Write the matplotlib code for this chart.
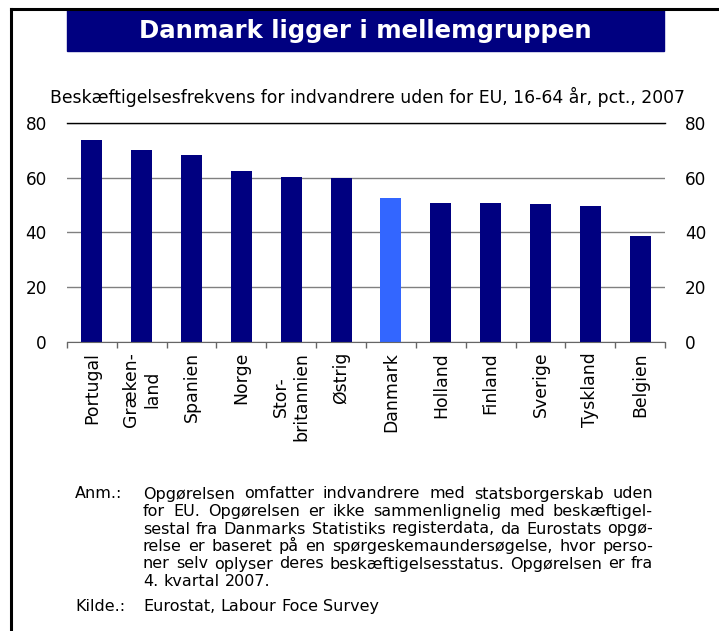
import numpy as np
import matplotlib
matplotlib.use("Agg")
import matplotlib.pyplot as plt
from matplotlib.patches import Rectangle
from matplotlib.lines import Line2D
from matplotlib.transforms import IdentityTransform

# ── data ─────────────────────────────────────────────
countries = ["Portugal", "Græken-\nland", "Spanien", "Norge", "Stor-\nbritannien",
             "Østrig", "Danmark", "Holland", "Finland", "Sverige", "Tyskland", "Belgien"]
values = [73.8, 70.1, 68.2, 62.4, 60.1, 59.9, 52.5, 50.6, 50.6, 50.2, 49.5, 38.5]
highlight = "Danmark"
yticks = [0, 20, 40, 60, 80]

title = "Danmark ligger i mellemgruppen"
subtitle = "Beskæftigelsesfrekvens for indvandrere uden for EU, 16-64 år, pct., 2007"
note_lines = [
    "Opgørelsen omfatter indvandrere med statsborgerskab uden",
    "for EU. Opgørelsen er ikke sammenlignelig med beskæftigel-",
    "sestal fra Danmarks Statistiks registerdata, da Eurostats opgø-",
    "relse er baseret på en spørgeskemaundersøgelse, hvor perso-",
    "ner selv oplyser deres beskæftigelsesstatus. Opgørelsen er fra",
    "4. kvartal 2007.",
]
source = "Eurostat, Labour Foce Survey"

NAVY = "#000080"
LIGHT = "#3366FF"
W, H = 719, 631

plt.rcParams["font.family"] = ["DejaVu Sans"]
fig = plt.figure(figsize=(W / 100, H / 100), dpi=100)


def fx(px):
    return px / W


def fy(py):
    return 1 - py / H


# ── frame + title box ────────────────────────────────
fig.add_artist(Line2D([fx(11), fx(11)], [fy(9), 0], color="black", lw=2.2,
                      transform=fig.transFigure))
fig.add_artist(Line2D([fx(11), 1], [fy(9), fy(9)], color="black", lw=2.2,
                      transform=fig.transFigure))
fig.add_artist(Rectangle((fx(67), fy(51)), fx(664) - fx(67), fy(10) - fy(51),
                         color=NAVY, transform=fig.transFigure))
fig.text(fx(365), fy(31), title, color="white", fontsize=17.6, fontweight="bold",
         ha="center", va="center")
fig.text(fx(368), fy(97), subtitle, fontsize=12.4, ha="center", va="center")

# ── bars ─────────────────────────────────────────────
ax = fig.add_axes([fx(67), fy(341.5), fx(665) - fx(67), fy(123) - fy(341.5)])
x = np.arange(len(countries))
colors = [LIGHT if c == highlight else NAVY for c in countries]
ax.bar(x, values, width=0.42, color=colors, zorder=3)

ax.set_xlim(-0.5, len(countries) - 0.5)
ax.set_ylim(0, 80)
ax.set_yticks(yticks)
ax.tick_params(axis="y", left=False, right=False, labelleft=True, labelright=True,
               labelsize=12.2, pad=11)
ax.set_xticks(x)
ax.set_xticklabels(countries, rotation=90, fontsize=12.4, va="top", ha="center",
                   multialignment="center")
ax.tick_params(axis="x", which="major", length=0, pad=7.5)
ax.set_xticks(np.arange(-0.5, len(countries)), minor=True)
ax.tick_params(axis="x", which="minor", length=4, width=1, color="#666666")

for s in ["left", "right", "top"]:
    ax.spines[s].set_visible(False)
ax.spines["bottom"].set_color("#666666")
ax.spines["bottom"].set_zorder(4)
ax.yaxis.grid(True, color="#808080", lw=1)
ax.set_axisbelow(True)
ax.axhline(80, color="black", lw=1, zorder=4, clip_on=False)

# ── footnote, justified ──────────────────────────────
renderer = fig.canvas.get_renderer()
note_kw = dict(fontsize=11.5, va="baseline", ha="left", transform=IdentityTransform())


def text_width(s):
    t = fig.text(0, 0, s, **note_kw)
    w = t.get_window_extent(renderer).width
    t.remove()
    return w


SPACE = text_width("a a") - text_width("aa")


def put_line(text, y, x0, x1, justify):
    words = text.split(" ")
    arts = [fig.text(x0, H - y, w, **note_kw) for w in words]
    widths = [a.get_window_extent(renderer).width for a in arts]
    gap = SPACE
    if justify and len(words) > 1:
        gap = (x1 - x0 - sum(widths)) / (len(words) - 1)
    pos = x0
    for a, w in zip(arts, widths):
        a.set_position((pos, H - y))
        pos += w + gap


base = 498.5
fig.text(75, H - base, "Anm.:", **note_kw)
for i, line in enumerate(note_lines):
    put_line(line, base + i * 17.5, 143, 653, i < len(note_lines) - 1)
fig.text(75, H - 611, "Kilde.:", **note_kw)
put_line(source, 611, 143, 653, False)

fig.savefig("out.png", dpi=100)
